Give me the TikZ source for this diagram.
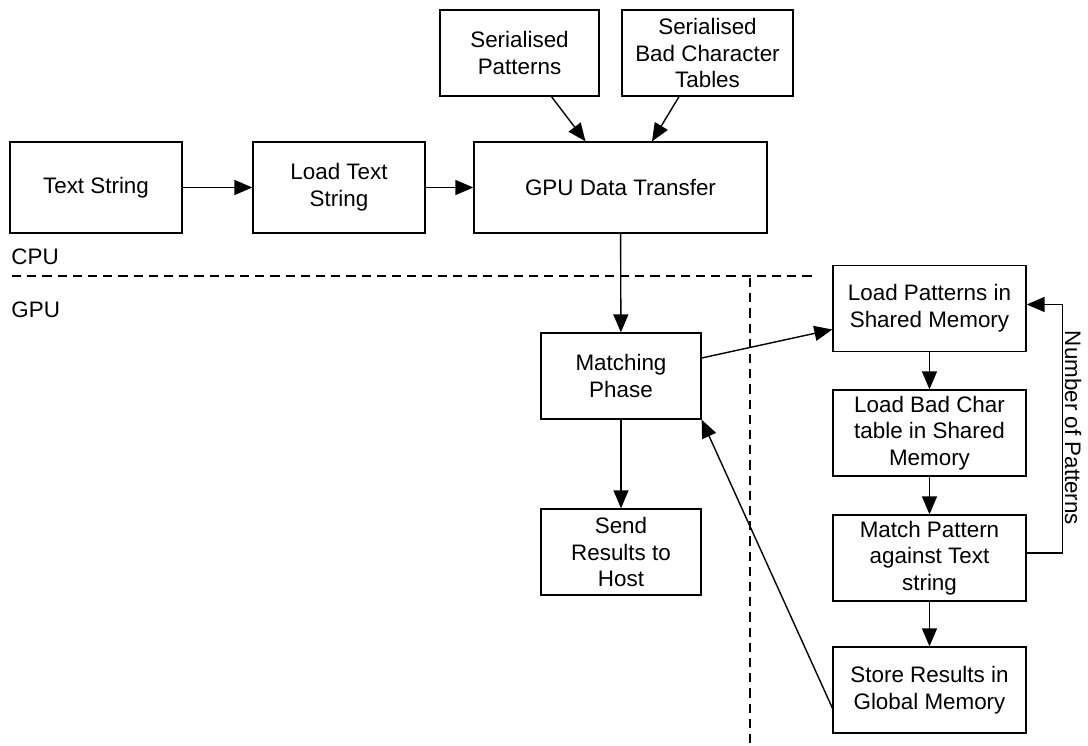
\documentclass[tikz,border=0pt]{standalone}
\usepackage{fontspec}
\setmainfont{Liberation Sans}
\usetikzlibrary{arrows.meta,calc}

\begin{document}
\begin{tikzpicture}[x=0.5pt, y=-0.5pt, font=\fontsize{11.2}{13.3}\selectfont]
\path [use as bounding box] (0,0) rectangle (1088,745);
\tikzstyle{box} = [draw, line width=0.65pt, rectangle, align=center, inner sep=0pt]
\tikzstyle{arr} = [-{Triangle[length=9pt,width=7.5pt]}, line width=0.7pt]
\tikzstyle{divider} = [dash pattern=on 4.6pt off 3pt, line width=0.9pt]
% CPU side
\node[box, minimum width=86pt, minimum height=45.5pt] (txt) at (96,187.5) {Text String};
\node[box, minimum width=86pt, minimum height=45.5pt] (loadtxt) at (339,187.5) {Load Text\\String};
\node[box, minimum width=146.5pt, minimum height=45.5pt] (transfer) at (620.5,187.5) {GPU Data Transfer};
\node[box, minimum width=79.5pt, minimum height=43pt] (serpat) at (519.5,53) {Serialised\\Patterns};
\node[box, minimum width=85.5pt, minimum height=43pt] (serbad) at (707.5,53) {Serialised\\Bad Character\\Tables};
% GPU side
\node[box, minimum width=80pt, minimum height=43pt] (matching) at (621,376) {Matching\\Phase};
\node[box, minimum width=80pt, minimum height=43pt] (send) at (621,552) {Send\\Results to\\Host};
\node[box, minimum width=96.5pt, minimum height=43pt] (loadpat) at (929.5,308.5) {Load Patterns in\\Shared Memory};
\node[box, minimum width=96.5pt, minimum height=43pt] (loadbad) at (929.5,433) {Load Bad Char\\table in Shared\\Memory};
\node[box, minimum width=96.5pt, minimum height=43pt] (matchpat) at (929.5,558) {Match Pattern\\against Text\\string};
\node[box, minimum width=96.5pt, minimum height=43pt] (store) at (929.5,690) {Store Results in\\Global Memory};
% labels
\node[anchor=west, inner sep=0pt] (cpu) at (11,257) {CPU};
\node[anchor=west, inner sep=0pt] (gpu) at (11,310) {GPU};
\node[rotate=-90, inner sep=0pt] (npat) at (1073,428) {Number of Patterns};
% dividers
\draw[divider] (12,276) -- (817,276);
\draw[divider] (750,278) -- (750,745);
% connectors
\draw[arr] (txt) -- (loadtxt);
\draw[arr] (loadtxt) -- (transfer);
\draw[arr] ($(serpat.south)+(32,0)$) -- ($(transfer.north)+(-35,0)$);
\draw[arr] ($(serbad.south)+(-28.5,0)$) -- ($(transfer.north)+(31.5,0)$);
\draw[arr] (transfer) -- (matching);
\draw[arr] (matching) -- (send);
\draw[arr] ($(matching.east)+(0,-18)$) -- ($(loadpat.west)+(0,21)$);
\draw[arr] (loadpat) -- (loadbad);
\draw[arr] (loadbad) -- (matchpat);
\draw[arr] (matchpat) -- (store);
\draw[arr] ($(matchpat.east)+(0,-5)$) -- ++(36,0) |- ($(loadpat.east)+(0,-4)$);
\draw[arr] ($(store.west)+(0,18)$) -- (matching.south east);
\end{tikzpicture}
\end{document}
